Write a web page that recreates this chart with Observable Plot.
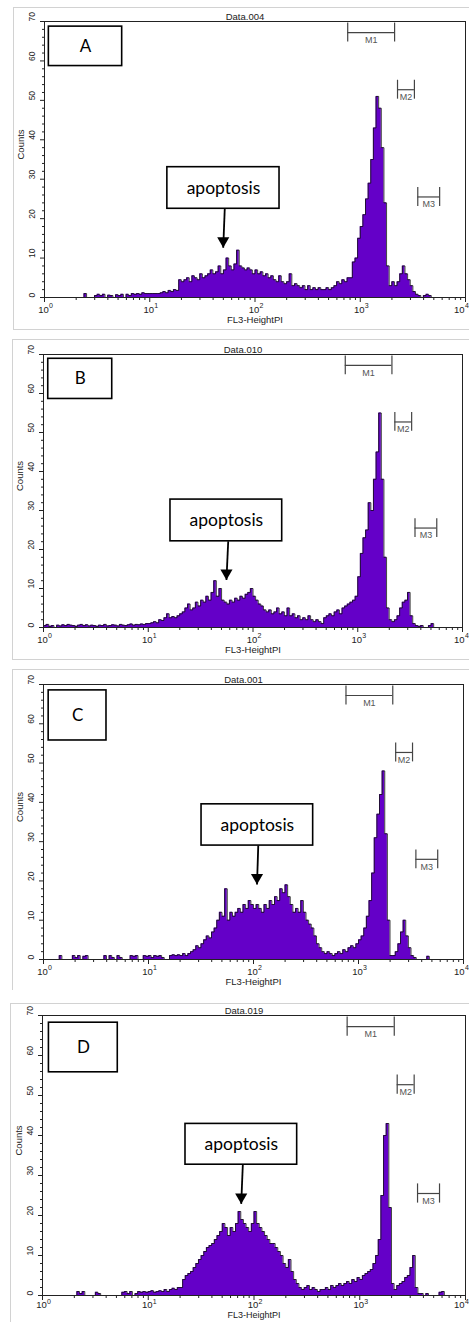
<!DOCTYPE html>
<html><head><meta charset="utf-8">
<script src="https://cdn.jsdelivr.net/npm/d3@7"></script>
<script src="https://cdn.jsdelivr.net/npm/@observablehq/plot@0.6"></script>
<style>
html,body{margin:0;padding:0;background:#fff}
body{width:469px;height:1322px;overflow:hidden;position:relative;font-family:"Liberation Sans",Arial,sans-serif}
.panel{position:absolute;left:0;width:469px;overflow:hidden}
.panel svg{display:block;background:none}
.frame{position:absolute;border:1px solid #d2d2d2;border-right:none;pointer-events:none}
</style></head><body>
<script>
// histogram channels: bins every 0.025 decade from 10^0 to 10^4
const STEP = 0.025;
const countsA = [
0,0,0,0,0,0,0,0,0,0,
0,0,0,0,0,1,0,0,0,0.5,
0.8,0.5,0.8,0,0.6,0.5,0,0.7,0.5,0.8,
0,0.8,0.5,1,0.8,1,0.8,1.2,1,1,
1,1,1,1,1.2,1.5,1.2,1.8,1.5,2,
1.8,4.5,4,4.5,5,4,5.5,5,4.5,6,
5,5.5,6,7,6,6.5,8,6,7,10,
8,7,8.5,12,8,7.5,7,7.5,7,6,
7,6,6.5,5.5,6,5,5.5,4.5,4,5.5,
4,3.5,4,6,3,3.5,3,2.5,3,2,
3,2,2.5,2,2.5,2,2,2.5,2,2.5,
3,4,3.5,4.5,4,5,5,9,10,15,
18,21,25,29,35,43,51,48,38,24,
8,3,4,3,4,6,8,6,4.5,3,
1.5,0.8,0.5,0,0.5,0.8,0.5,0,0,0,
0,0,0,0,0,0,0,0,0,0,
0];
const countsB = [
0.5,0.8,0.3,0.5,0,0.6,0.4,0.7,0.5,0.8,
0.6,0.5,0.3,0.6,0.8,0.5,0.7,0.4,0.6,0.5,
0.3,0.6,0.5,0.8,0.4,0.5,0.7,0.6,0.4,0.8,
0.6,0.5,0.7,0.9,0.6,0.8,0.7,0.9,0.8,1,
1,1.2,1.5,1.2,2,1.8,2.5,3.5,2.5,2.8,
2.5,3,3.5,4,5,6,4.5,5,6.5,5.5,
7,6.5,8,7,9,12,8,10,7,6.5,
6,7,6.5,7.5,7,8,7.5,8.5,9,10,
8,7,6,5.5,4.5,4,4.5,3.5,4,5,
3.5,4,3,5,3,3.5,2.5,3,2,2.5,
2,3,2,1.5,2,1.5,1,2.5,3,3.5,
3,4,4.5,3.5,5,5.5,6,6.5,7,8,
13,19,23,25,32,30,38,45,55,38,
18,5,2,1.5,2,3,5,6.5,7,9,
3,1,0.5,0.3,0.5,0,0,0.5,1,0,
0,0,0,0,0,0,0,0,0,0,
0];
const countsC = [
0,0,0,0,0,0,1,0,0,0,
0,1,0.5,1,0,0.8,1,0,0,0,
0,0,0,1,0,1,0.5,0,1,0.5,
0,0,0,1,0.8,1,0,0,1,0.8,
1,0.5,1,0.8,1,0.5,0,0,1,1.2,
1,1.2,1,1.5,1,1.5,2,2.5,3.5,3,
4,5,6,5.5,7,8,10,12,11,18,
10,12,11,12,13,12,14,13,15,14,
13,14,13,12,14,13,15,14,16,15,
18,17,19,16,14,12,13,12,15,12,
10,9,8,6,4,3,2,1.5,2,1.5,
1,1.5,2,1.5,2.5,2,3,3.5,3,4,
5,6,8,11,15,22,31,37,42,48,
32,10,1,1,2,4,7,10,6,3,
1,0.5,0,0,0,0,0.8,0,0,0,
0,0,0,0,0,0,0,0,0,0,
0];
const countsD = [
0,0,0,0,0,0,0,0,0,0,
0,0,0,1,0.5,1,0,0,0,0,
0.8,0.5,0,0,0,0,0,0,0,0,
0.8,1,0.5,1,0,0.5,1,0.8,1,0.8,
1,1.2,0.8,1,1.2,1,1.5,1,1.5,1.8,
1.5,2,2,4,5,5.5,6,7,8,9,
10,11,12,12.5,13,14,15,16,18,17,
15,17,16,18,21,19,18,17,16,18,
21,18,17,16,15,14,13,13,12,11,
10,8,7,9,6,4,3,2,1.5,2,
2.5,1.5,2,1.5,1,1.5,1.5,2,1.5,2.5,
2,2.5,3,2.5,3,3.5,3,4,3.5,4.5,
4,5,5.5,6,6.5,8,10,14,25,40,
43,22,3,1.5,2.5,3,3.5,4.5,5,7,
10,2,0.5,0.5,0,0.5,0,0,0,0,
0.8,1,0,0,0,0,0,0,0,0,
0];
const allCounts = [countsA, countsB, countsC, countsD];

const titles = ["Data.004", "Data.010", "Data.001", "Data.019"];
const letters = ["A", "B", "C", "D"];
const yTicks = [0, 10, 20, 30, 40, 50, 60, 70];
const xTicks = [1, 10, 100, 1000];
const xTickExp = ["0", "1", "2", "3"];
const xLastTick = [10000];
const xLastExp = ["4"];

// marker gates (same for all samples)
const gateNames = ["M1", "M2", "M3"];
const gateLow = [760, 2260, 3520];
const gateHigh = [2120, 3270, 5680];
const gateLevel = [67.2, 52.7, 25.5];

// annotation boxes in data units
const letterX1 = [1.10, 1.11, 1.12, 1.15];
const letterX2 = [5.47, 4.53, 3.98, 5.15];
const letterY1 = [58.7, 58.6, 55.75, 55.8];
const letterY2 = [68.7, 68.9, 68.5, 68.2];
const apoX1 = [14.7, 16.3, 32, 22.5];
const apoX2 = [171, 190, 370, 256];
const apoY1 = [22.5, 22.1, 29, 32.7];
const apoY2 = [33.05, 32.8, 39.5, 42.9];
const arrowFromX = [51.6, 58, 111, 78.4];
const arrowToX = [49.9, 55.8, 108, 75.7];
const arrowToY = [12.6, 12.2, 19.1, 22.9];

// page layout
const layout = [
  {top: 0,   height: 330, mt: 21, mr: 4, mb: 33, ml: 44, fl: 13, ft: 7,  fb: 328, td: 15,   xl: 25, xf: 9.5},
  {top: 330, height: 330, mt: 24, mr: 7, mb: 33, ml: 43, fl: 12, ft: 9,  fb: 328, td: 15,   xl: 25, xf: 9.5},
  {top: 660, height: 330, mt: 24, mr: 6, mb: 31, ml: 43, fl: 12, ft: 9,  fb: 329, td: 15,   xl: 25, xf: 9.5},
  {top: 990, height: 332, mt: 25, mr: 4, mb: 27, ml: 42, fl: 10, ft: 13, fb: 400, td: 12.5, xl: 22.8, xf: 9}
];

const yMinor = d3.range(2, 70, 2).filter(v => v % 10 !== 0);
const xMinor = [];
for (const d of [1, 10, 100, 1000]) for (let m = 2; m < 10; m++) xMinor.push(d * m);

const gates = gateNames.map((n, i) => ({name: n, x1: gateLow[i], x2: gateHigh[i], y: gateLevel[i]}));
const gateEdges = gates.flatMap(g => [{x: g.x1, y: g.y}, {x: g.x2, y: g.y}]);
const GATE_HALF = 2.4;

function makePanel(k) {
  const L = layout[k];
  const hist = allCounts[k].map((c, i) => ({x: Math.pow(10, i * STEP), y: c}));
  const lb = [{x1: letterX1[k], x2: letterX2[k], y1: letterY1[k], y2: letterY2[k]}];
  const ab = [{x1: apoX1[k], x2: apoX2[k], y1: apoY1[k], y2: apoY2[k]}];
  const ar = [{x1: arrowFromX[k], y1: apoY1[k], x2: arrowToX[k], y2: arrowToY[k]}];
  const ink = "#222";
  const endDx = 464 - (469 - L.mr);
  return Plot.plot({
    width: 469, height: L.height,
    marginTop: L.mt, marginRight: L.mr, marginBottom: L.mb, marginLeft: L.ml,
    style: {fontFamily: '"Liberation Sans", Arial, sans-serif', background: "none", color: ink},
    x: {type: "log", domain: [1, 10000]},
    y: {domain: [0, 70]},
    marks: [
      Plot.areaY(hist, {x: "x", y: "y", curve: "step-after", fill: "#6400c8"}),
      Plot.lineY(hist, {x: "x", y: "y", curve: "step-after", stroke: "#111", strokeWidth: 0.8}),
      Plot.axisY({ticks: yTicks, tickSize: 4, fill: "none", stroke: ink}),
      Plot.axisY({ticks: yMinor, tickSize: 2, fill: "none", stroke: ink}),
      Plot.axisX({ticks: xTicks.concat(xLastTick), tickSize: 5, fill: "none", stroke: ink}),
      Plot.axisX({ticks: xMinor, tickSize: 3, fill: "none", stroke: ink}),
      Plot.frame({stroke: ink}),
      Plot.text(yTicks, {y: d => d, text: d => String(d), frameAnchor: "left", dx: -12, rotate: -90, fontSize: 8.5, fill: ink}),
      Plot.text(["Counts"], {text: d => d, frameAnchor: "left", dx: -23.5, rotate: -90, fontSize: 9.5, fill: ink}),
      Plot.text(xTicks, {x: d => d, text: () => "10", frameAnchor: "bottom", dx: -1, dy: L.td, fontSize: 9.5, fill: ink}),
      Plot.text(xTicks, {x: d => d, text: (d, i) => xTickExp[i], frameAnchor: "bottom", dx: 4.5, dy: L.td - 4.5, fontSize: 7, textAnchor: "start", fill: ink}),
      Plot.text(xLastTick, {x: d => d, text: () => "10", frameAnchor: "bottom", dx: endDx, dy: L.td, fontSize: 9.5, textAnchor: "end", fill: ink}),
      Plot.text(xLastTick, {x: d => d, text: (d, i) => xLastExp[i], frameAnchor: "bottom", dx: endDx + 0.5, dy: L.td - 4.5, fontSize: 7, textAnchor: "start", fill: ink}),
      Plot.text(["FL3-HeightPI"], {text: d => d, frameAnchor: "bottom", dy: L.xl, fontSize: L.xf, fill: ink}),
      Plot.text([titles[k]], {text: d => d, frameAnchor: "top", dx: -10, dy: -8, fontSize: 9.5, fill: ink}),
      Plot.ruleY(gates, {y: "y", x1: "x1", x2: "x2", stroke: "#444", strokeWidth: 1.2}),
      Plot.ruleX(gateEdges, {x: "x", y1: d => d.y - GATE_HALF, y2: d => d.y + GATE_HALF, stroke: "#444", strokeWidth: 1.2}),
      Plot.text(gates, {x: d => Math.sqrt(d.x1 * d.x2), y: "y", text: "name", dy: 7.5, fontSize: 9, fill: "#555"}),
      Plot.rect(lb, {x1: "x1", x2: "x2", y1: "y1", y2: "y2", fill: "white", stroke: "black", strokeWidth: 1.6}),
      Plot.text(lb, {x: d => Math.sqrt(d.x1 * d.x2), y: d => (d.y1 + d.y2) / 2, text: () => letters[k], fontFamily: "Lato", fontSize: 17, fill: "black"}),
      Plot.rect(ab, {x1: "x1", x2: "x2", y1: "y1", y2: "y2", fill: "white", stroke: "black", strokeWidth: 1.6}),
      Plot.text(ab, {x: d => Math.sqrt(d.x1 * d.x2), y: d => (d.y1 + d.y2) / 2, text: () => "apoptosis", fontFamily: "Lato", fontSize: 17.5, fill: "black"}),
      Plot.link(ar, {x1: "x1", y1: "y1", x2: "x2", y2: "y2", stroke: "black", strokeWidth: 1.8}),
      Plot.dot(ar, {x: "x2", y: "y2", symbol: "triangle", rotate: 180, r: 4.5, fill: "black", stroke: "none", dy: -7})
    ]
  });
}

for (let k = 0; k < 4; k++) {
  const L = layout[k];
  const div = document.createElement("div");
  div.className = "panel";
  div.style.top = L.top + "px";
  div.style.height = L.height + "px";
  div.appendChild(makePanel(k));
  const fr = document.createElement("div");
  fr.className = "frame";
  fr.style.left = L.fl + "px";
  fr.style.top = L.ft + "px";
  fr.style.width = (469 - L.fl + 5) + "px";
  fr.style.height = (L.fb - L.ft) + "px";
  div.appendChild(fr);
  document.body.appendChild(div);
}
</script>
</body></html>
